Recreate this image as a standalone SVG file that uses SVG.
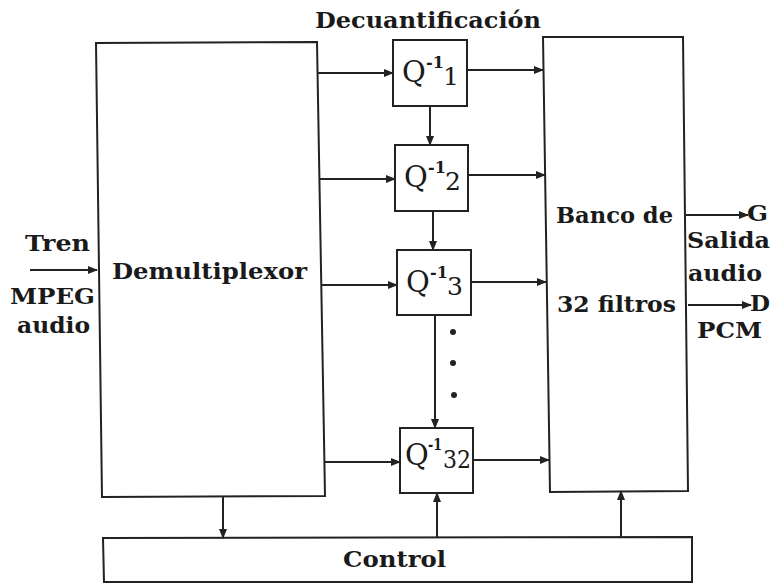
<svg xmlns="http://www.w3.org/2000/svg" width="775" height="586" viewBox="0 0 775 586">
<style>
.box{fill:none;stroke:#222;stroke-width:2}
.ln{fill:none;stroke:#222;stroke-width:2}
.t{font-family:"DejaVu Serif","Liberation Serif",serif;font-weight:bold;fill:#1a1a1a;font-size:22px}
.q{font-family:"DejaVu Serif","Liberation Serif",serif;fill:#1a1a1a;font-size:29px}
.n{font-family:"DejaVu Serif","Liberation Serif",serif;fill:#1a1a1a;font-size:25px}
.s{font-family:"DejaVu Serif","Liberation Serif",serif;font-weight:bold;fill:#1a1a1a;font-size:16px}
</style>
<defs>
<marker id="ah" markerWidth="10" markerHeight="8" refX="9" refY="4" orient="auto" markerUnits="userSpaceOnUse">
<path d="M0,0 L10,4 L0,8 z" fill="#222"/>
</marker>
</defs>
<rect width="775" height="586" fill="#fff"/>
<text class="t" x="315" y="28" font-size="20" textLength="226" lengthAdjust="spacingAndGlyphs">Decuantificación</text>

<g id="demux">
<polygon class="box" points="96,43 317,42 325,496 102,497"/>
<text class="t" x="112" y="279" textLength="195" lengthAdjust="spacingAndGlyphs">Demultiplexor</text>
</g>

<g id="q1">
<rect class="box" x="393" y="40" width="74" height="66"/>
<text class="q" x="402" y="82">Q</text><text class="s" x="426" y="68">-1</text><text class="n" x="443" y="85">1</text>
</g>
<g id="q2">
<rect class="box" x="395" y="145" width="73" height="66"/>
<text class="q" x="404" y="187">Q</text><text class="s" x="428" y="173">-1</text><text class="n" x="445" y="190">2</text>
</g>
<g id="q3">
<rect class="box" x="397" y="250" width="74" height="65"/>
<text class="q" x="406" y="292">Q</text><text class="s" x="430" y="278">-1</text><text class="n" x="447" y="295">3</text>
</g>
<g id="q32">
<rect class="box" x="400" y="428" width="73" height="65"/>
<text class="q" x="405" y="465">Q</text><text class="s" x="428" y="450" textLength="14" lengthAdjust="spacingAndGlyphs">-1</text><text class="n" x="443" y="468" textLength="28" lengthAdjust="spacingAndGlyphs">32</text>
</g>

<g id="banco">
<polygon class="box" points="543,37 683,37 688,491 550,492"/>
<text class="t" x="556" y="223" textLength="117" lengthAdjust="spacingAndGlyphs">Banco de</text>
<text class="t" x="557" y="312" textLength="119" lengthAdjust="spacingAndGlyphs">32 filtros</text>
</g>

<g id="control">
<polygon class="box" points="103,538 692,537 692,582 104,582"/>
<text class="t" x="343" y="567" textLength="103" lengthAdjust="spacingAndGlyphs">Control</text>
</g>

<g id="labels">
<text class="t" x="25" y="251" textLength="65" lengthAdjust="spacingAndGlyphs">Tren</text>
<text class="t" x="10" y="304" textLength="85" lengthAdjust="spacingAndGlyphs">MPEG</text>
<text class="t" x="17" y="333" textLength="73" lengthAdjust="spacingAndGlyphs">audio</text>
<text class="t" x="747" y="221" textLength="21" lengthAdjust="spacingAndGlyphs">G</text>
<text class="t" x="687" y="248" textLength="83" lengthAdjust="spacingAndGlyphs">Salida</text>
<text class="t" x="688" y="281" textLength="74" lengthAdjust="spacingAndGlyphs">audio</text>
<text class="t" x="750" y="311" textLength="20" lengthAdjust="spacingAndGlyphs">D</text>
<text class="t" x="697" y="338" textLength="65" lengthAdjust="spacingAndGlyphs">PCM</text>
</g>

<g id="connectors">
<line class="ln" x1="30" y1="270" x2="97" y2="270" marker-end="url(#ah)"/>
<line class="ln" x1="318" y1="73" x2="393" y2="73" marker-end="url(#ah)"/>
<line class="ln" x1="319" y1="179" x2="395" y2="179" marker-end="url(#ah)"/>
<line class="ln" x1="321" y1="285" x2="397" y2="285" marker-end="url(#ah)"/>
<line class="ln" x1="325" y1="462" x2="400" y2="462" marker-end="url(#ah)"/>
<line class="ln" x1="467" y1="70" x2="543" y2="70" marker-end="url(#ah)"/>
<line class="ln" x1="468" y1="175" x2="545" y2="175" marker-end="url(#ah)"/>
<line class="ln" x1="471" y1="282" x2="546" y2="282" marker-end="url(#ah)"/>
<line class="ln" x1="473" y1="460" x2="549" y2="460" marker-end="url(#ah)"/>
<line class="ln" x1="430" y1="106" x2="430" y2="145" marker-end="url(#ah)"/>
<line class="ln" x1="433" y1="211" x2="433" y2="250" marker-end="url(#ah)"/>
<line class="ln" x1="435" y1="315" x2="435" y2="428" marker-end="url(#ah)"/>
<circle cx="453" cy="332" r="3" fill="#222"/>
<circle cx="453" cy="363" r="3" fill="#222"/>
<circle cx="454" cy="395" r="3" fill="#222"/>
<line class="ln" x1="223" y1="497" x2="223" y2="538" marker-end="url(#ah)"/>
<line class="ln" x1="437" y1="538" x2="437" y2="493" marker-end="url(#ah)"/>
<line class="ln" x1="621" y1="537" x2="621" y2="491" marker-end="url(#ah)"/>
<line class="ln" x1="686" y1="215" x2="748" y2="215" marker-end="url(#ah)"/>
<line class="ln" x1="688" y1="305" x2="751" y2="305" marker-end="url(#ah)"/>
</g>
</svg>
